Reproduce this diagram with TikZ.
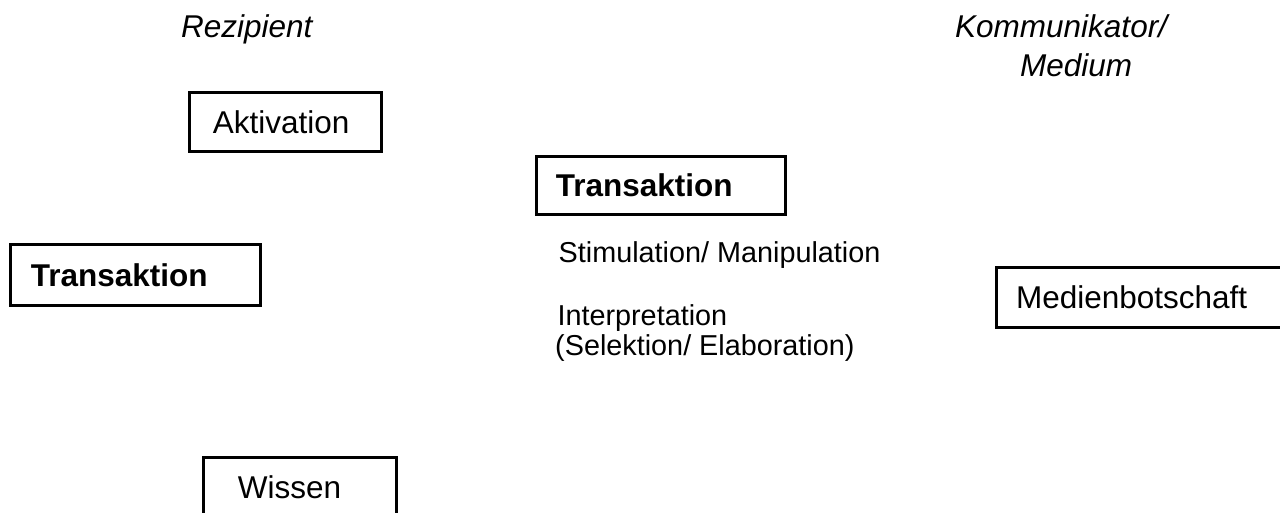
\documentclass[tikz,border=0pt]{standalone}
\usepackage{fontspec}
\setmainfont{Liberation Sans}
\newcommand{\bigfs}{\fontsize{31.5}{37}\selectfont}
\newcommand{\midfs}{\fontsize{28.8}{34}\selectfont}
\newcommand{\boxtext}[3]{\makebox[#1][l]{\hspace{#2}#3}}
\begin{document}
\begin{tikzpicture}[x=1pt,y=1pt,
  box/.style={draw, line width=2.6pt, inner sep=0pt, anchor=north west, font=\bigfs},
  toplbl/.style={inner sep=0pt, anchor=base west, font=\bigfs\itshape},
  midlbl/.style={inner sep=0pt, anchor=base west, font=\midfs}]
\useasboundingbox (0,0) rectangle (1280,-513);
% top headings
\node[toplbl] (rez) at (181,-38) {Rezipient};
\node[toplbl] (kom) at (955,-38) {Kommunikator/};
\node[toplbl] (medium) at (1020,-77) {Medium};
% boxes
\node[box, minimum height=59pt] (akt) at (188,-91) {\boxtext{192pt}{23.5pt}{Aktivation}};
\node[box, minimum height=58pt] (trc) at (535,-155) {\boxtext{249pt}{19.5pt}{\bfseries Transaktion}};
\node[box, minimum height=61pt] (trl) at (9,-243) {\boxtext{250pt}{20.5pt}{\bfseries Transaktion}};
\node[box, minimum height=60pt] (med) at (995,-266) {\boxtext{330pt}{19.7pt}{Medienbotschaft}};
\node[box, minimum height=60pt] (wis) at (202,-456) {\boxtext{193pt}{34.5pt}{Wissen}};
% middle texts
\node[midlbl] (stim) at (558.5,-262) {Stimulation/ Manipulation};
\node[midlbl] (interp) at (557.3,-325) {Interpretation};
\node[midlbl] (sel) at (555,-355) {(Selektion/ Elaboration)};
\end{tikzpicture}
\end{document}
